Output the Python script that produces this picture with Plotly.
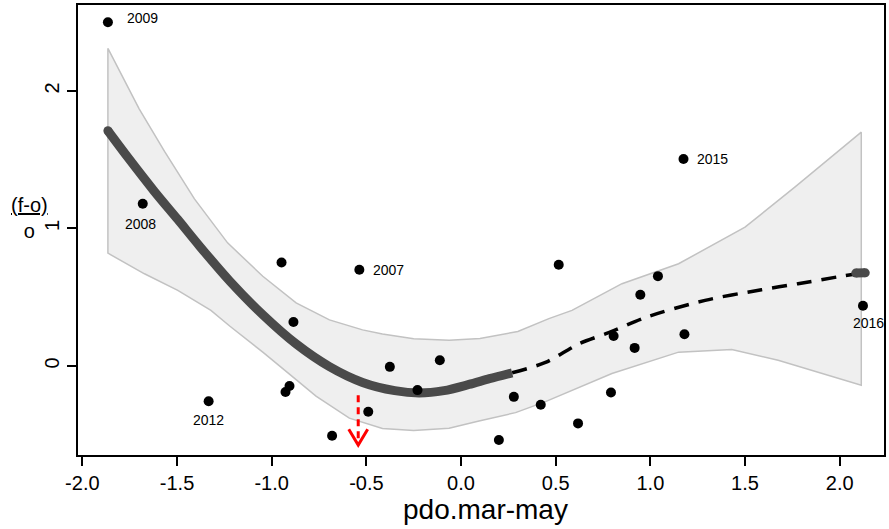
import plotly.graph_objects as go

# observed points
pdo_x = [-1.865, -1.681, -1.333, -0.948, -0.537, -0.885, -0.927, -0.906, -0.681, -0.49,
         -0.376, -0.112, -0.23, 0.279, 0.421, 0.20, 0.516, 1.175, 1.04, 0.947,
         0.806, 0.917, 1.18, 2.123, 0.792, 0.618]
fo_y = [2.50, 1.18, -0.257, 0.752, 0.70, 0.319, -0.19, -0.146, -0.508, -0.334,
        -0.007, 0.041, -0.176, -0.225, -0.283, -0.539, 0.736, 1.505, 0.653, 0.518,
        0.218, 0.131, 0.23, 0.438, -0.193, -0.418]

# labelled years (index into points)
label_year = ["2009", "2008", "2012", "2007", "2015", "2016"]
label_idx = [0, 1, 2, 4, 17, 23]

# fitted curve: solid (within data support) and dashed (extrapolated)
fit_solid_x = [-1.865, -1.76, -1.62, -1.496, -1.38, -1.222, -1.047, -0.871, -0.695, -0.52,
               -0.35, -0.221, -0.09, 0.042, 0.15, 0.27]
fit_solid_y = [1.71, 1.517, 1.27, 1.065, 0.87, 0.618, 0.372, 0.16, -0.005, -0.12,
               -0.18, -0.197, -0.18, -0.135, -0.093, -0.05]
fit_dash_x = [0.27, 0.446, 0.622, 0.78, 0.973, 1.289, 1.587, 1.78, 2.027, 2.114]
fit_dash_y = [-0.05, 0.025, 0.16, 0.242, 0.352, 0.477, 0.554, 0.598, 0.656, 0.675]
fit_end_x = [2.085, 2.135]
fit_end_y = [0.675, 0.677]

# confidence band
ci_up_x = [-1.865, -1.70, -1.566, -1.408, -1.233, -1.047, -0.871, -0.695, -0.52, -0.415,
           -0.25, -0.063, 0.1, 0.3, 0.464, 0.586, 0.85, 1.149, 1.5, 1.763, 2.114]
ci_up_y = [2.31, 1.87, 1.56, 1.215, 0.895, 0.652, 0.458, 0.335, 0.262, 0.232,
           0.198, 0.186, 0.20, 0.25, 0.344, 0.404, 0.598, 0.743, 1.009, 1.30, 1.70]
ci_lo_x = [-1.865, -1.672, -1.496, -1.321, -1.222, -1.047, -0.871, -0.766, -0.59, -0.415,
           -0.25, -0.063, 0.095, 0.288, 0.446, 0.797, 1.149, 1.43, 1.675, 2.114]
ci_lo_y = [0.82, 0.67, 0.549, 0.404, 0.29, 0.10, -0.10, -0.22, -0.38, -0.455,
           -0.47, -0.454, -0.40, -0.34, -0.26, -0.055, 0.10, 0.119, 0.041, -0.14]

# red arrow (current value)
arrow_x = -0.543
arrow_y_start = -0.213
arrow_y_tip = -0.575
arrow_head_w = 0.05
arrow_head_h = 0.115

x_ticks = [-2.0, -1.5, -1.0, -0.5, 0.0, 0.5, 1.0, 1.5, 2.0]
x_tick_text = ["-2.0", "-1.5", "-1.0", "-0.5", "0.0", "0.5", "1.0", "1.5", "2.0"]
y_ticks = [0, 1, 2]
y_tick_text = ["0", "1", "2"]

FONT = "Liberation Sans, Arial, Helvetica, sans-serif"

fig = go.Figure()

band_x = ci_up_x + ci_lo_x[::-1] + [ci_up_x[0]]
band_y = ci_up_y + ci_lo_y[::-1] + [ci_up_y[0]]
fig.add_trace(go.Scatter(x=band_x, y=band_y, mode="lines", fill="toself",
                         fillcolor="#efefef", line=dict(color="#c2c2c2", width=1.5),
                         hoverinfo="skip", showlegend=False))

fig.add_trace(go.Scatter(x=fit_dash_x, y=fit_dash_y, mode="lines",
                         line=dict(color="black", width=3.5, dash="15px,10px",
                                   shape="spline", smoothing=0.8),
                         showlegend=False))
fig.add_trace(go.Scatter(x=fit_solid_x, y=fit_solid_y, mode="lines",
                         line=dict(color="#4a4a4a", width=9, shape="spline", smoothing=0.8),
                         showlegend=False))
fig.add_trace(go.Scatter(x=[fit_solid_x[0]], y=[fit_solid_y[0]], mode="markers",
                         marker=dict(color="#4a4a4a", size=9), showlegend=False))
fig.add_trace(go.Scatter(x=fit_end_x, y=fit_end_y, mode="lines+markers",
                         line=dict(color="#4a4a4a", width=9),
                         marker=dict(color="#4a4a4a", size=9), showlegend=False))

# red arrow
fig.add_trace(go.Scatter(x=[arrow_x, arrow_x], y=[arrow_y_start, arrow_y_tip + 0.02],
                         mode="lines", line=dict(color="red", width=3, dash="7px,5px"),
                         showlegend=False))
fig.add_trace(go.Scatter(x=[arrow_x - arrow_head_w, arrow_x, arrow_x + arrow_head_w],
                         y=[arrow_y_tip + arrow_head_h, arrow_y_tip, arrow_y_tip + arrow_head_h],
                         mode="lines", line=dict(color="red", width=3), showlegend=False))

fig.add_trace(go.Scatter(x=pdo_x, y=fo_y, mode="markers",
                         marker=dict(color="black", size=10), showlegend=False))

# year labels
offsets = {"2009": (17, -4, "left"), "2008": (-2, 20, "center"), "2012": (0, 19, "center"),
           "2007": (12, 0, "left"), "2015": (12, 0, "left"), "2016": (6, 17, "center")}
for yr, i in zip(label_year, label_idx):
    dx, dy, anc = offsets[yr]
    fig.add_annotation(x=pdo_x[i], y=fo_y[i], text=yr, showarrow=False,
                       xanchor=anc, yanchor="middle", xshift=dx, yshift=-dy,
                       font=dict(family=FONT, size=14, color="black"))

# axis titles
fig.add_annotation(xref="paper", yref="paper", x=0.505, y=-0.122, text="pdo.mar-may",
                   showarrow=False, xanchor="center", yanchor="middle",
                   font=dict(family=FONT, size=28, color="black"))
fig.add_annotation(xref="paper", yref="paper", x=-0.0605, y=0.527,
                   text="<u>(f-o)</u><br>o", showarrow=False,
                   xanchor="center", yanchor="middle", align="center",
                   font=dict(family=FONT, size=20, color="black"))

axis_common = dict(showline=True, mirror=True, linecolor="black", linewidth=1.5,
                   ticks="outside", ticklen=9, tickwidth=1.5, tickcolor="black",
                   showgrid=False, zeroline=False,
                   tickfont=dict(family=FONT, size=20, color="black"))
fig.update_xaxes(range=[-2.023, 2.234], tickvals=x_ticks, ticktext=x_tick_text, **axis_common)
fig.update_yaxes(range=[-0.648, 2.625], tickvals=y_ticks, ticktext=y_tick_text,
                 tickangle=-90, **axis_common)

fig.update_layout(width=889, height=529, margin=dict(l=78, r=3, t=4, b=74),
                  plot_bgcolor="white", paper_bgcolor="white", showlegend=False,
                  font=dict(family=FONT))

fig.write_html("out.html", config={"displayModeBar": False},
               post_script="document.body.style.margin='0';")
